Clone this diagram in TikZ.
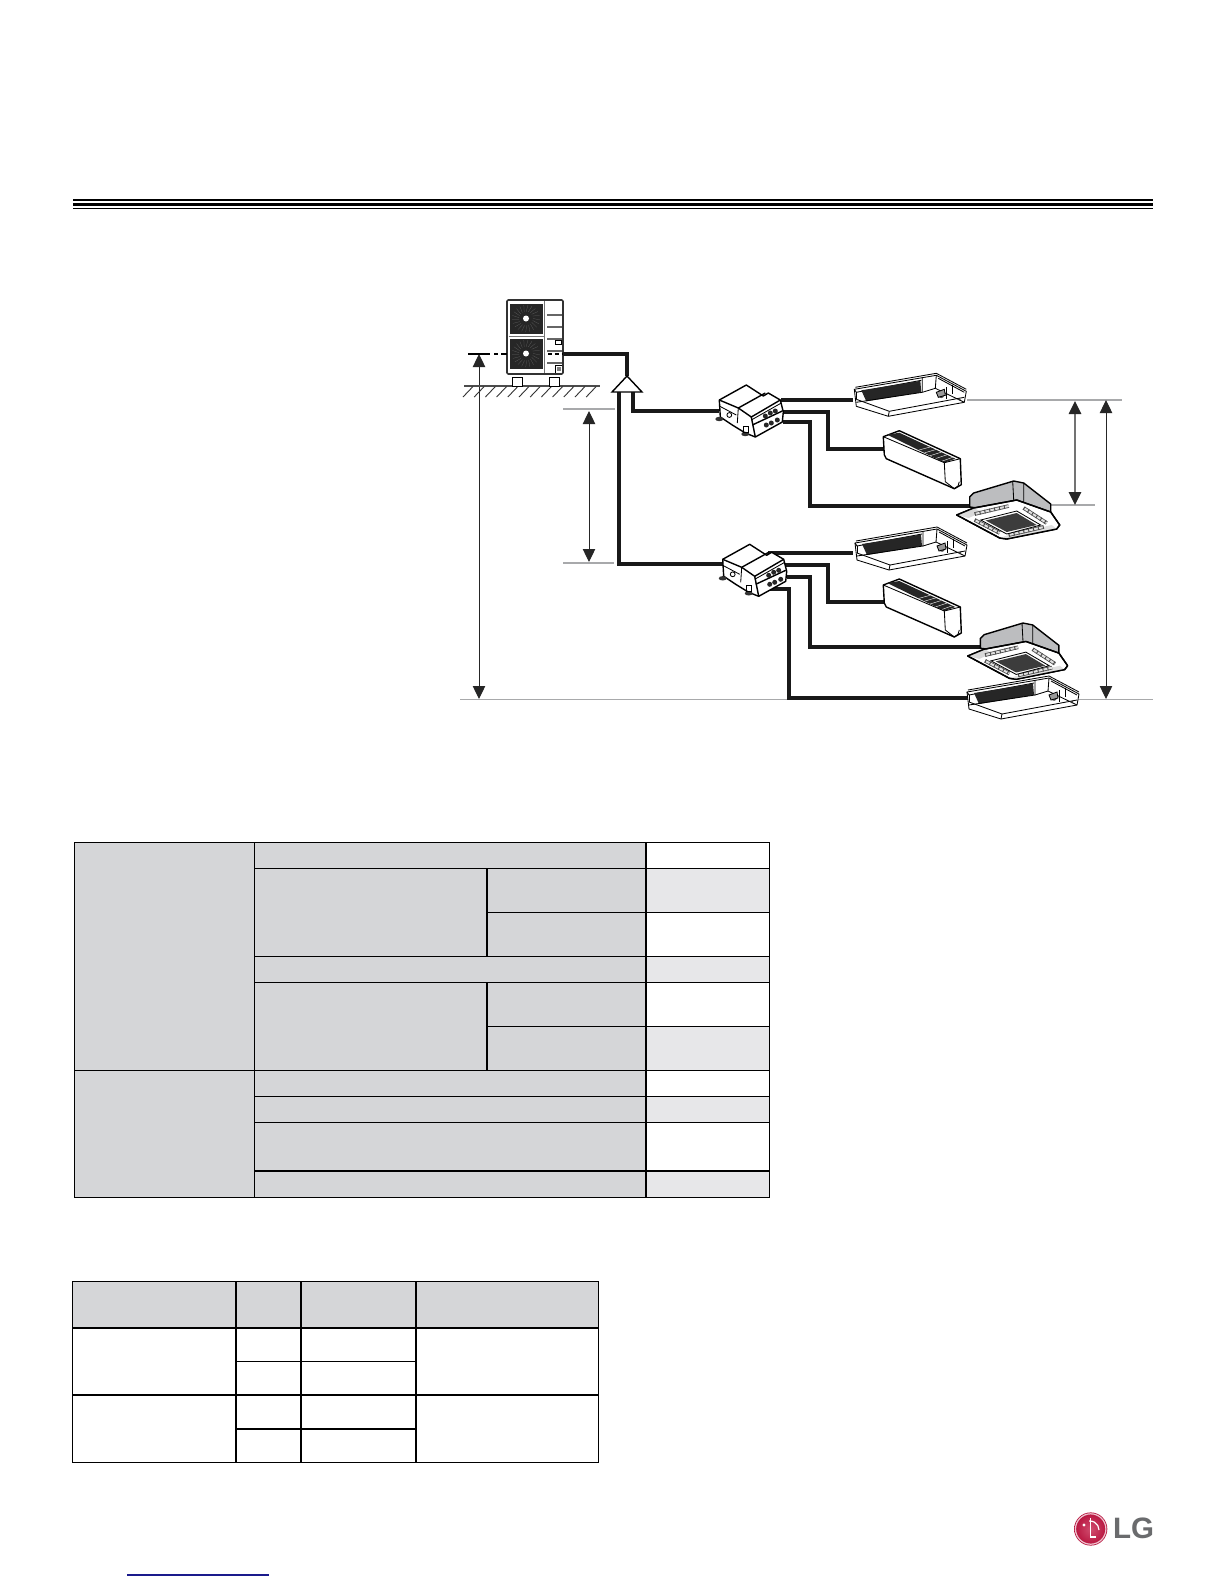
\documentclass[tikz,border=0pt]{standalone}
\usepackage{fontspec}
\setmainfont{Liberation Sans}
\usetikzlibrary{arrows.meta}
\definecolor{tgray}{HTML}{D5D6D8}
\definecolor{tlight}{HTML}{E7E7E9}
\definecolor{dimgray}{HTML}{A8A9AB}
\definecolor{bodygray}{HTML}{BCBDBF}
\definecolor{darkfill}{HTML}{262626}
\definecolor{gratefill}{HTML}{3C3C3C}
\definecolor{lgred}{HTML}{C0123F}
\definecolor{lggray}{HTML}{6A6B6D}
\definecolor{linkblue}{HTML}{1A1A8C}
\tikzset{
  x=0.5bp,y=-0.5bp,
  pipe/.style={line width=1.55bp,line join=miter,black!90},
  dimline/.style={line width=0.5bp,black!85,{Triangle[width=6.2bp,length=6.5bp]}-{Triangle[width=6.2bp,length=6.5bp]}},
  extline/.style={line width=0.6bp,dimgray},
  thin1/.style={line width=0.42bp,black},
  med1/.style={line width=0.7bp,black,line join=round},
  grid1/.style={line width=0.7bp,black},
  frame1/.style={line width=0.42bp,black},
  slat/.style={line width=1.8bp,black!70},
  slatw/.style={line width=1bp,black!12},
  slatd/.style={line width=1.8bp,black!70,dash pattern=on 0.5bp off 2bp},
  ductunit/.pic={
    \draw[thin1,fill=white] (0,0) -- (82,-14) -- (112,2) -- (110,13) -- (34,27) -- (2,17) -- cycle;
    \draw[thin1] (2,10) -- (35,22) -- (110,8);
    \draw[thin1] (35,22) -- (34,27);
    \draw[thin1] (0,0) -- (2,3) -- (67,-9);
    \draw[thin1] (1,-2) -- (82,-16) -- (112,0);
    \draw[thin1] (2,3) -- (2,10);
    \fill[darkfill] (7,1) -- (66,-8.5) -- (67,3) -- (12,12) -- cycle;
    \draw[thin1] (68,-12) -- (68,3) -- (2,13);
    \draw[thin1] (82,-14) -- (81,-1) -- (110,13);
    \draw[thin1] (81,-1) -- (68,3);
    \draw[thin1] (84,-11) -- (110,3);
    \draw[thin1] (92,-2) -- (92,10) (98,-4) -- (98,5);
    \fill[black!70] (87,6) circle[radius=2.8];
    \fill[black!80] (105,10) circle[radius=1.4];
    \draw[thin1,fill=black!40] (82,3) -- (90,0) -- (91,6) -- (84,8) -- cycle;
  },
  wallunit/.pic={
    \draw[med1,fill=white] (0,0) -- (16,-6) -- (77,22) -- (78,48) -- (71,52) -- (3,22) -- (1,18) -- cycle;
    \fill[darkfill] (4,-2) -- (16,-4) -- (72,22) -- (61,26) -- cycle;
    \foreach \t in {0.55,0.65,0.75,0.85,0.95}
      \draw[white,line width=0.2bp] ({4+\t*57},{-2+\t*28}) -- ({16+\t*56},{-4+\t*26});
    \draw[thin1] (0,0) -- (61,26) -- (62,45) -- (71,52);
    \draw[thin1] (61,26) -- (77,22);
    \draw[thin1] (71,52) to[bend right=35] (76,45);
  },
  cassette/.pic={
    \draw[med1,fill=bodygray] (13,-8) -- (13,-18) -- (17,-22) -- (57,-34) -- (67,-32) -- (94,-11) -- (94,-2) -- (60,-2) -- cycle;
    \draw[thin1] (56,-33.5) -- (57,-15) (67,-32) -- (67,-13);
    \draw[med1,fill=white,line join=round] (0,0) -- (17,-7) -- (60,-15) -- (94,-3) -- (103,10) -- (100,14) -- (50,24) -- (43,23) -- cycle;
    \fill[black!15] (0,0) -- (17,-7) -- (25,-3) -- (12,3) -- cycle;
    \fill[black!12] (43,23) -- (50,24) -- (100,14) -- (95,10) -- (52,20) -- cycle;
    \draw[med1] (0,0) -- (17,-7) -- (60,-15) -- (94,-3) -- (103,10) -- (100,14) -- (50,24) -- (43,23) -- cycle;
    \draw[slat] (18,-1) -- (52,-9);   \draw[slatw] (18,-1) -- (52,-9); \draw[slatd] (18,-1) -- (52,-9);
    \draw[slat] (67,-7) -- (90,8);    \draw[slatw] (67,-7) -- (90,8);  \draw[slatd] (67,-7) -- (90,8);
    \draw[slat] (52,20) -- (87,12);   \draw[slatw] (52,20) -- (87,12); \draw[slatd] (52,20) -- (87,12);
    \draw[slat] (18,5) -- (43,18);    \draw[slatw] (18,5) -- (43,18);  \draw[slatd] (18,5) -- (43,18);
    \draw[thin1,fill=white] (24,5) -- (60,-4) -- (84,10) -- (50,19) -- cycle;
    \path[fill=gratefill] (29,5.5) -- (60,-2) -- (80,10) -- (50,17) -- cycle;
  },
  bdunit/.pic={
    \draw[med1,fill=white] (0,0) -- (27,-15) -- (44,-4) -- (49,-7) -- (61,0) -- (64,12) -- (63,22) -- (36,37) -- (26,33) -- (13,25) -- (1,17) -- cycle;
    \draw[med1] (0,0) -- (19,8) (19,8) -- (46,-7);
    \draw[thin1] (19,8) -- (18,23);
    \draw[thin1] (0,6) -- (17,15);
    \draw[med1] (19,8) -- (32,17) -- (61,0);
    \draw[med1] (32,17) -- (36,37);
    \draw[med1] (33,25) -- (63,11);
    \draw[thin1] (32,20) -- (62,3);
    \foreach \a/\b in {46/16,51/13,56/11,47/25,52/23,58/20}
      \fill[black!85] (\a,\b) circle[radius=2.5];
    \draw[thin1] (10,15) circle[radius=2.4];
    \fill[black!80] (0,19) ellipse[x radius=4,y radius=2.2];
    \fill[black!80] (26,34) ellipse[x radius=4,y radius=2.2];
    \draw[thin1] (24,26) rectangle (29,32);
  },
  outdoor/.pic={
    \draw[line width=0.8bp,black!80,fill=white,rounded corners=0.6bp] (0,0) rectangle (56,74);
    \foreach \yy in {0,35}{
      \fill[darkfill] (2.5,3.5+\yy) rectangle (36,33.5+\yy);
      \foreach \ang in {0,17,...,352}
        \draw[black!62,line width=0.12bp] ({19+7*cos(\ang)},{18.5+\yy+7*sin(\ang)}) -- ({19+14*cos(\ang+6)},{18.5+\yy+13.5*sin(\ang+6)});
      \fill[white] (19,18.5+\yy) circle[radius=3];
    }
    \draw[black!55,line width=0.5bp] (1.5,36) -- (37,36);
    \draw[black!55,line width=0.4bp] (37.5,1) -- (37.5,73);
    \foreach \yy in {15,27,39,51,63}
      \draw[black!60,line width=0.7bp] (40,\yy) -- (55,\yy);
    \draw[thin1,fill=white] (48,40.5) rectangle (54,44);
    \draw[thin1] (48,73) -- (48,65) -- (55,65);
    \fill[black!50] (50,67) rectangle (54,71);
  }
}
\begin{document}
\begin{tikzpicture}
\useasboundingbox (0,0) rectangle (1224,1584);
\fill[white] (0,0) rectangle (1224,1584);

% header rule
\fill[black] (73,199) rectangle (1153,201);
\fill[black] (73,203) rectangle (1153,206.3);
\fill[black] (73,207.7) rectangle (1153,209);

% named points of the connectors and dimension lines
\coordinate (tee) at (627,376);
\coordinate (teeL) at (619,392);
\coordinate (teeR) at (633,392);
\coordinate (odOut) at (563,354);
\coordinate (bdAin) at (719,411);
\coordinate (bdBin) at (723,564);
\coordinate (bdA1) at (781,400);
\coordinate (bdA2) at (783,412);
\coordinate (bdA3) at (783,422);
\coordinate (bdB1) at (768,553);
\coordinate (bdB2) at (785,565);
\coordinate (bdB3) at (787,577);
\coordinate (bdB4) at (770,589);
\coordinate (ductAin) at (853,400);
\coordinate (wallAin) at (884,449);
\coordinate (casAin) at (970,506);
\coordinate (ductBin) at (853,553);
\coordinate (wallBin) at (884,602);
\coordinate (casBin) at (981,647);
\coordinate (ductCin) at (969,698);

% reference lines
\coordinate (lvlBotL) at (460,699.5);
\coordinate (lvlBotR) at (1153,699.5);
\draw[extline] (lvlBotL) -- (lvlBotR);
\coordinate (e1a) at (967,400); \coordinate (e1b) at (1122,400);
\draw[extline] (e1a) -- (e1b);
\coordinate (e2a) at (1051,505); \coordinate (e2b) at (1095,505);
\draw[extline] (e2a) -- (e2b);
\coordinate (e3a) at (563,409); \coordinate (e3b) at (615,409);
\draw[extline] (e3a) -- (e3b);
\coordinate (e4a) at (563,563); \coordinate (e4b) at (614,563);
\draw[extline] (e4a) -- (e4b);

% dimension arrows
\coordinate (d1t) at (479,354); \coordinate (d1b) at (479,699);
\draw[dimline] (d1t) -- (d1b);
\coordinate (d2t) at (589,411); \coordinate (d2b) at (589,562);
\draw[dimline] (d2t) -- (d2b);
\coordinate (d3t) at (1075,401); \coordinate (d3b) at (1075,505);
\draw[dimline,line width=0.7bp,draw=black!55,{Triangle[width=6.2bp,length=6.5bp,color=black!85]}-{Triangle[width=6.2bp,length=6.5bp,color=black!85]}] (d3t) -- (d3b);
\coordinate (d4t) at (1106,400); \coordinate (d4b) at (1106,699);
\draw[dimline] (d4t) -- (d4b);

% ground
\coordinate (g1) at (464,386); \coordinate (g2) at (600,386);
\draw[line width=0.7bp,black!70] (g1) -- (g2);
\foreach \i in {0,...,11}
  \draw[line width=0.45bp,black!80] ({463+11.2*\i},397) -- ({473+11.2*\i},386.5);

% feet
\draw[line width=0.45bp,black,fill=white] (512,377) rectangle (522,386);
\draw[line width=0.45bp,black,fill=white] (549,377) rectangle (559,386);

% outdoor unit
\pic (od) at (507,300) {outdoor};

% elevation reference at outdoor unit
\draw[line width=0.8bp,black] (468,354) -- (490,354);
\draw[line width=0.8bp,black] (494,354) -- (497.5,354);
\draw[line width=0.8bp,black] (501,354) -- (507,354);
\draw[line width=0.8bp,black,dash pattern=on 2.2bp off 1.2bp] (548,354) -- (563,354);

% pipes
\draw[pipe] (odOut) -| (tee);
\draw[pipe] (teeR) |- (bdAin);
\draw[pipe] (teeL) |- (bdBin);
\draw[pipe] (bdA1) -- (ductAin);
\draw[pipe] (bdA2) -- ++(45,0) |- (wallAin);
\draw[pipe] (bdA3) -- ++(27,0) |- (casAin);
\draw[pipe] (bdB1) -- (ductBin);
\draw[pipe] (bdB2) -- ++(43,0) |- (wallBin);
\draw[pipe] (bdB3) -- ++(23,0) |- (casBin);
\draw[pipe] (bdB4) -- ++(19,0) |- (ductCin);

% tee
\draw[line width=0.7bp,black,fill=white,line join=miter] (tee) -- (642,392) -- (612,392) -- cycle;

% indoor equipment
\pic (bdA) at (719.3,400) {bdunit};
\pic (bdB) at (722.7,559.3) {bdunit};
\pic (ductA) at (854.3,389.3) {ductunit};
\pic (ductB) at (855,543) {ductunit};
\pic (ductC) at (967,692) {ductunit};
\pic (wallA) at (883.3,436.7) {wallunit};
\pic (wallB) at (883.3,585) {wallunit};
\pic (casA) at (956.7,515) {cassette};
\pic[scale=0.97] (casB) at (967.7,656) {cassette};

% table 1 fills
\fill[tgray] (74,842) rectangle (646,1197.5);
\foreach \a/\b in {868.5/912.5,956.5/982.5,1026.5/1070.5,1096.5/1122.5,1171/1197.5}
  \fill[tlight] (646,\a) rectangle (769.5,\b);
% table 1 grid
\draw[frame1] (74,842) rectangle (769.5,1197.5);
\draw[grid1] (254.7,842) -- (254.7,1197.5);
\draw[grid1] (646,842) -- (646,1197.5);
\draw[grid1] (487,868.5) -- (487,956.5) (487,982.5) -- (487,1070.5);
\draw[grid1] (254.7,868.5) -- (769.5,868.5);
\draw[grid1] (487,912.5) -- (769.5,912.5);
\draw[grid1] (254.7,956.5) -- (769.5,956.5);
\draw[grid1] (254.7,982.5) -- (769.5,982.5);
\draw[grid1] (487,1026.5) -- (769.5,1026.5);
\draw[grid1] (74,1070.5) -- (769.5,1070.5);
\draw[grid1] (254.7,1096.5) -- (769.5,1096.5);
\draw[grid1] (254.7,1122.5) -- (769.5,1122.5);
\draw[grid1] (254.7,1171) -- (769.5,1171);

% table 2
\fill[tgray] (72.7,1281) rectangle (598,1328);
\draw[frame1] (72.7,1281) rectangle (598,1462);
\draw[grid1] (236,1281) -- (236,1462);
\draw[grid1] (301,1281) -- (301,1462);
\draw[grid1] (416,1281) -- (416,1462);
\draw[grid1] (72.7,1328) -- (598,1328);
\draw[grid1] (236,1361.7) -- (416,1361.7);
\draw[grid1] (72.7,1395) -- (598,1395);
\draw[grid1] (236,1429) -- (416,1429);

% link underline
\coordinate (u1) at (127,1575); \coordinate (u2) at (269,1575);
\draw[linkblue,line width=0.55bp] (u1) -- (u2);

% logo
\shade[inner color=lgred!75!white,outer color=lgred!95!black] (1090.7,1529) circle[radius=16.6];
\draw[white!75!lgred,line width=0.6bp] (1090.7,1529) circle[radius=15.2];
\fill[white] (1084,1525) circle[radius=1.7];
\draw[white,line width=0.8bp] (1090.5,1518) -- (1090.5,1537) -- (1096,1537);
\draw[white,line width=0.6bp] (1099,1530) arc[start angle=0,end angle=-95,radius=9];
\node[inner sep=0pt,text=lggray,font=\bfseries\fontsize{14.8}{14.8}\selectfont] (lg) at (1133.5,1528.5) {LG};
\end{tikzpicture}
\end{document}
